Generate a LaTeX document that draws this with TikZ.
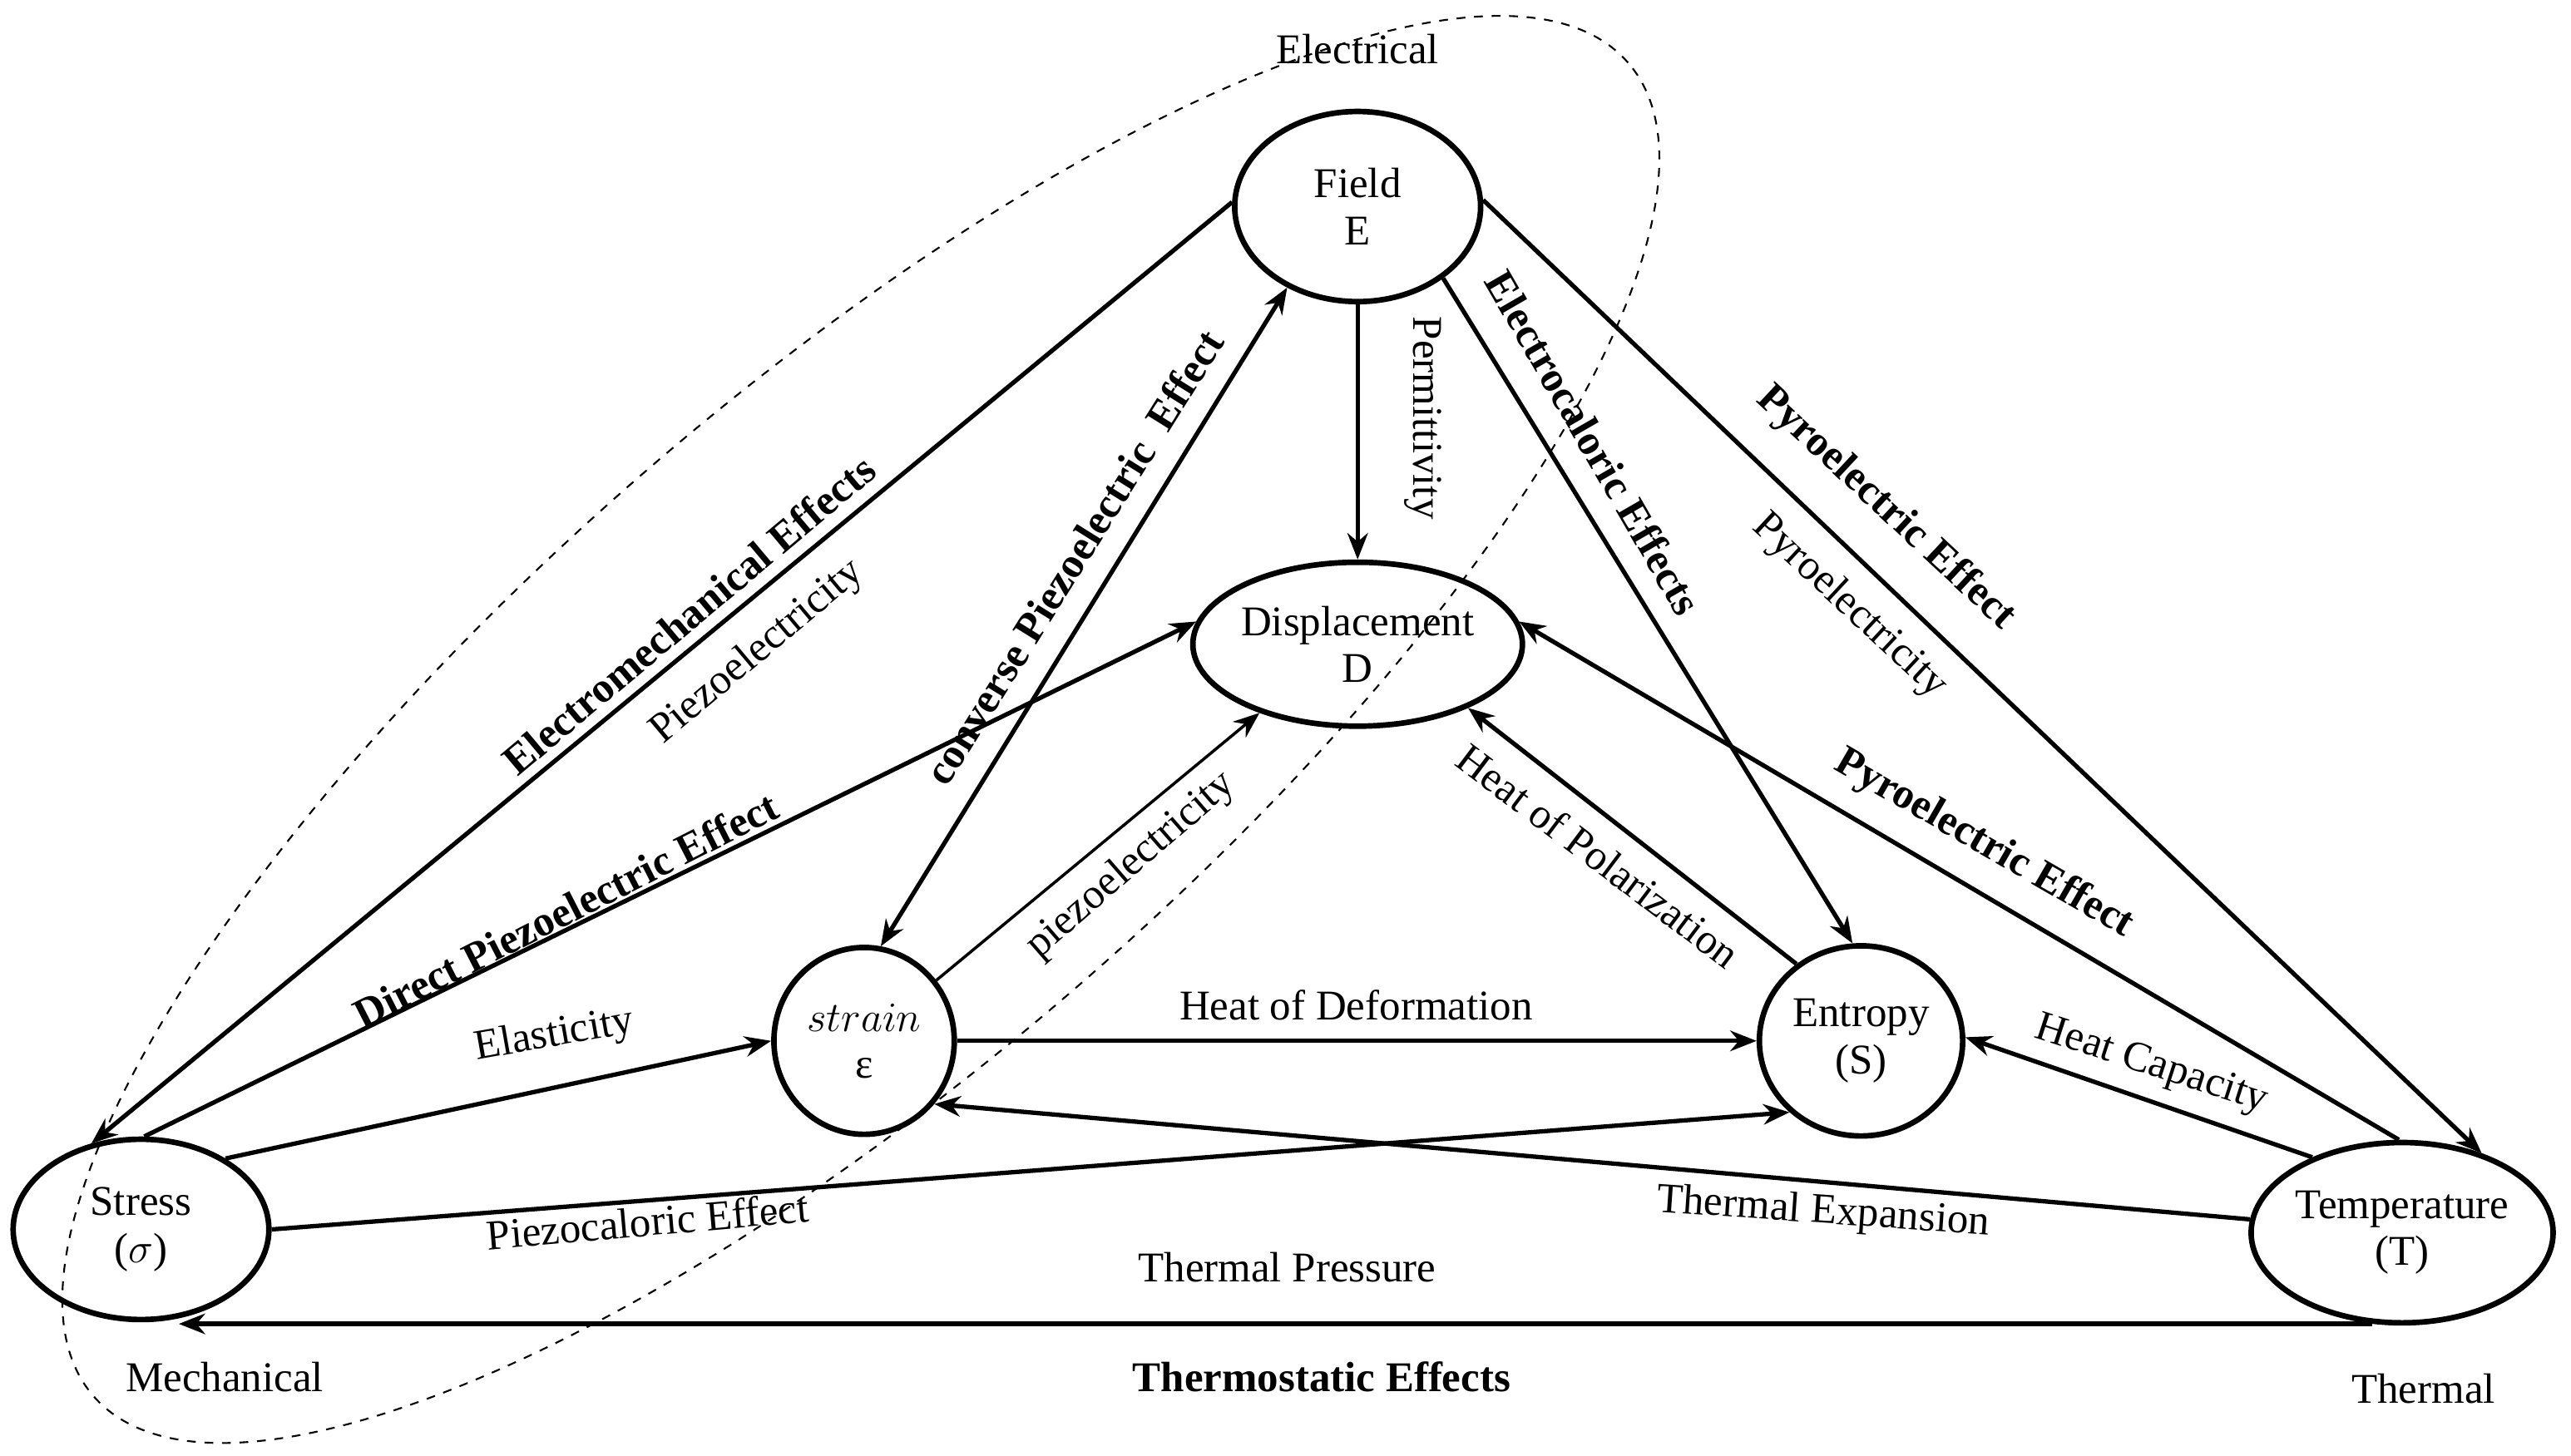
\documentclass[tikz,border=0pt]{standalone}
\usepackage{fontspec}
\setmainfont{Liberation Serif}
\usetikzlibrary{shapes.geometric,arrows.meta}
\def\pxu{0.01971cm}
\begin{document}
\begin{tikzpicture}[x=0.01971cm,y=-0.01971cm,
  font=\fontsize{14.5}{16}\selectfont,
  st/.style={draw,ellipse,line width=1.9pt,inner sep=0pt,align=center},
  ar/.style={line width=1.5pt,-{Stealth[length=9pt,width=7pt]}},
  lb/.style={inner sep=1pt},
  bl/.style={inner sep=1pt,font=\fontsize{14.5}{16}\selectfont\bfseries}]
\useasboundingbox (0,0) rectangle (1568,888);
\node[draw,ellipse,dashed,line width=0.6pt,minimum width=1240*\pxu,minimum height=410*\pxu,rotate=41] (dash) at (525,445) {};
\node[st,minimum width=150*\pxu,minimum height=116*\pxu] (F) at (828,126) {Field\\E};
\node[st,minimum width=184*\pxu,minimum height=100*\pxu] (D) at (828,393) {Displacement\\D};
\node[st,minimum width=110*\pxu,minimum height=114*\pxu] (e) at (527,635) {$strain$\\ε};
\node[st,minimum width=124*\pxu,minimum height=116*\pxu] (S) at (1135,635) {Entropy\\(S)};
\node[st,minimum width=156*\pxu,minimum height=110*\pxu] (sig) at (86,750) {Stress\\($\sigma$)};
\node[st,minimum width=184*\pxu,minimum height=110*\pxu] (T) at (1465,752) {Temperature\\(T)};
\coordinate (tp) at ([xshift=0pt]sig.293 |- T.252);
\draw[ar] (F.178) -- (sig.120);
\draw[ar,{Stealth[length=9pt,width=7pt]}-{Stealth[length=9pt,width=7pt]}] (F.229) -- (e.80);
\draw[ar] (F.south) -- (D.north);
\draw[ar] (F.320) -- (S.95);
\draw[ar] (F.3) -- (T.45);
\draw[ar] (sig.88) -- (D.172);
\draw[ar,line width=1pt] (e.40) -- (D.215);
\draw[ar] (S.130) -- (D.330);
\draw[ar] (T.92) -- (D.8);
\draw[ar] (sig.40) -- (e.180);
\draw[ar] (e.0) -- (S.180);
\draw[ar] (sig.0) -- (S.225);
\draw[ar] (T.175) -- (e.318);
\draw[ar] (T.140) -- (S.2);
\draw[ar] (T.252) -- (tp);
\node[lb] (l1) at (828,30) {Electrical};
\node[lb] (l2) at (137,840) {Mechanical};
\node[lb] (l3) at (1478,847) {Thermal};
\node[bl] (l4) at (806,840) {Thermostatic Effects};
\node[bl,rotate=40] (l5) at (420,375) {Electromechanical Effects};
\node[lb,rotate=40] (l6) at (462,398) {Piezoelectricity};
\node[bl,rotate=58] (l7) at (655,340) {converse Piezoelectric\ \ Effect};
\node[bl,rotate=27] (l8) at (345,555) {Direct Piezoelectric Effect};
\node[lb,rotate=41] (l9) at (690,528) {piezoelectricity};
\node[lb,rotate=-90] (l10) at (868,255) {Permittivity};
\node[bl,rotate=-60] (l11) at (972,270) {Electrocaloric Effects};
\node[bl,rotate=-43] (l12) at (1150,310) {Pyroelectric Effect};
\node[lb,rotate=-43] (l13) at (1128,370) {Pyroelectricity};
\node[lb,rotate=-37] (l14) at (975,522) {Heat of Polarization};
\node[bl,rotate=-30] (l15) at (1210,515) {Pyroelectric Effect};
\node[lb,rotate=-18] (l16) at (1312,650) {Heat Capacity};
\node[lb,rotate=10] (l17) at (338,632) {Elasticity};
\node[lb,rotate=5] (l18) at (395,745) {Piezocaloric Effect};
\node[lb,rotate=-4] (l19) at (1112,740) {Thermal Expansion};
\node[lb] (l20) at (827,613) {Heat of Deformation};
\node[lb] (l21) at (785,773) {Thermal Pressure};
\end{tikzpicture}
\end{document}
